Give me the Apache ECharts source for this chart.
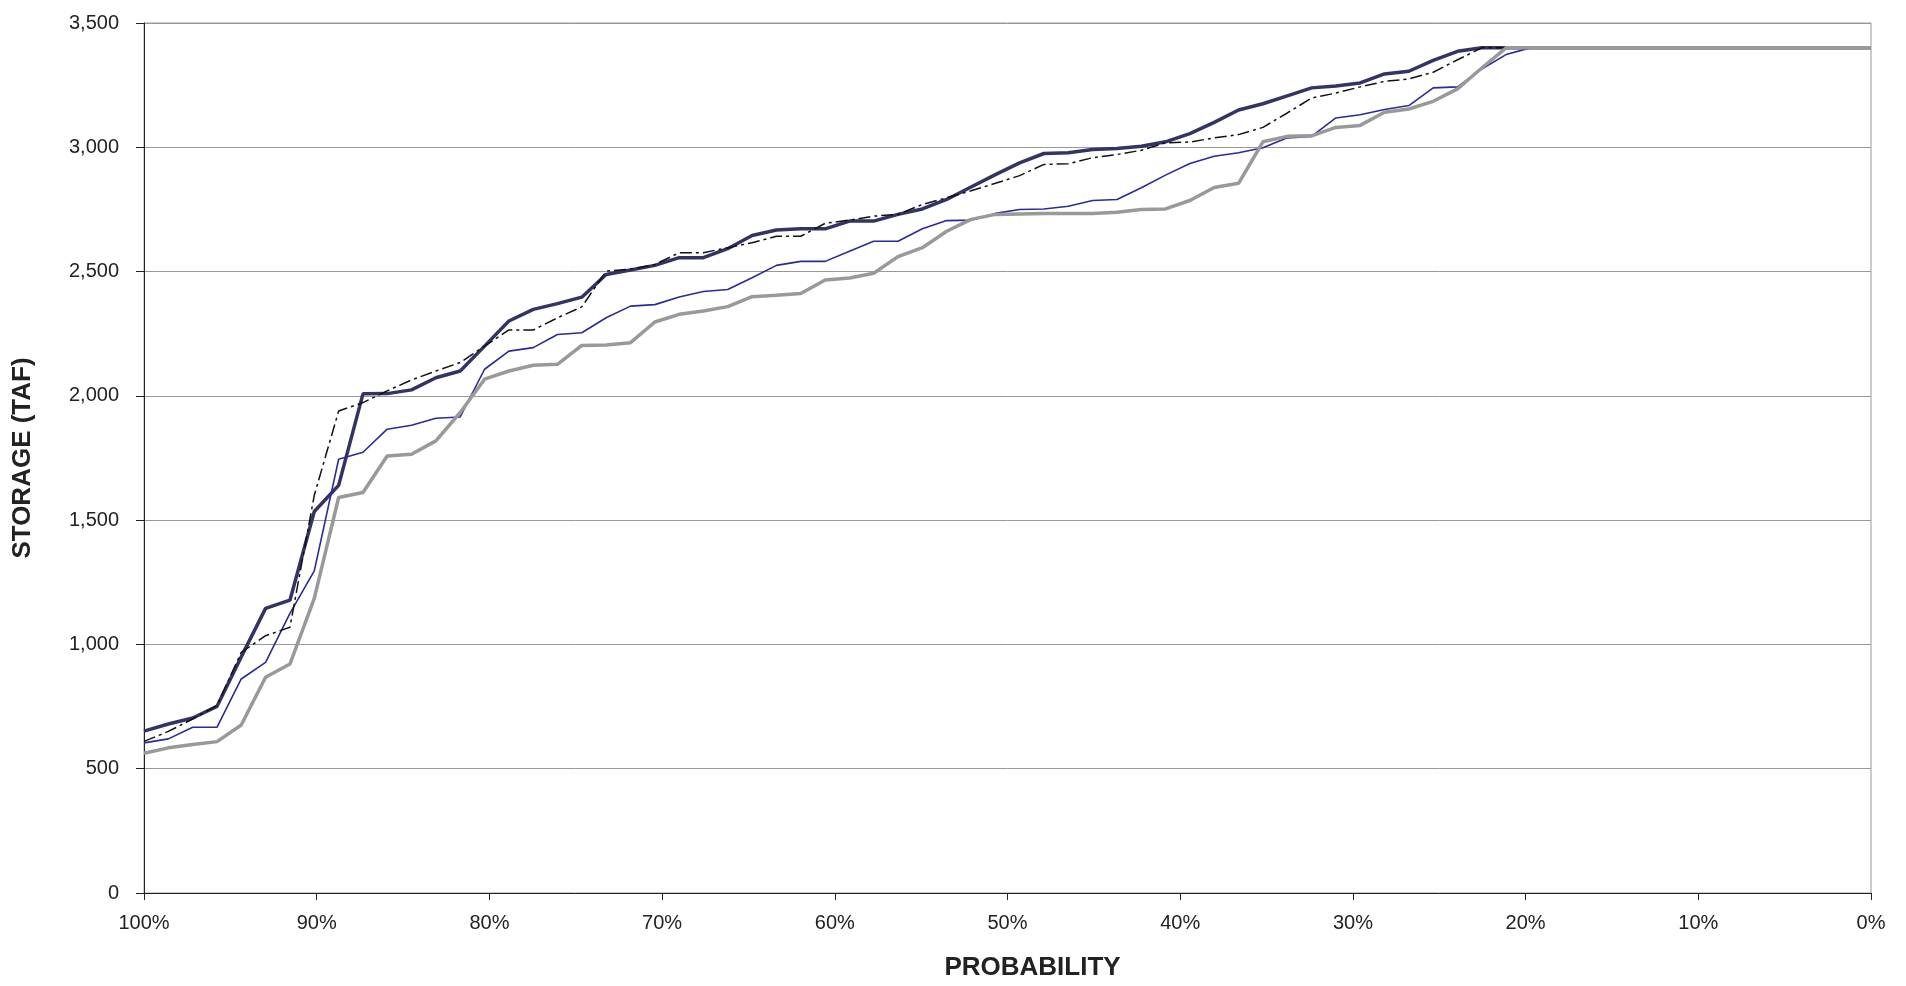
<!DOCTYPE html>
<html>
<head>
<meta charset="utf-8">
<script src="https://cdn.jsdelivr.net/npm/echarts@6/dist/echarts.min.js"></script>
<style>
html,body{margin:0;padding:0;background:#fff;}
#chart{width:1906px;height:986px;}
</style>
</head>
<body>
<div id="chart"></div>
<script>
// Exceedance probability (%) of each plotted point
const probs = [100, 98.59, 97.18, 95.77, 94.37, 92.96, 91.55, 90.14, 88.73, 87.32,
  85.92, 84.51, 83.10, 81.69, 80.28, 78.87, 77.46, 76.06, 74.65, 73.24,
  71.83, 70.42, 69.01, 67.61, 66.20, 64.79, 63.38, 61.97, 60.56, 59.15,
  57.75, 56.34, 54.93, 53.52, 52.11, 50.70, 49.30, 47.89, 46.48, 45.07,
  43.66, 42.25, 40.85, 39.44, 38.03, 36.62, 35.21, 33.80, 32.39, 30.99,
  29.58, 28.17, 26.76, 25.35, 23.94, 22.54, 21.13, 19.72, 18.31, 16.90,
  15.49, 14.08, 12.68, 11.27, 9.86, 8.45, 7.04, 5.63, 4.23, 2.82, 1.41, 0];

// Storage (TAF) – thick navy line
const navyValues = [651, 680, 704, 751, 950, 1145, 1178, 1535, 1640, 2008,
  2009, 2024, 2073, 2100, 2200, 2301, 2348, 2371, 2397, 2488,
  2506, 2525, 2556, 2556, 2592, 2645, 2667, 2672, 2672, 2703,
  2703, 2730, 2752, 2790, 2840, 2890, 2937, 2975, 2978, 2991,
  2995, 3004, 3022, 3055, 3100, 3150, 3175, 3207, 3239, 3247,
  3259, 3295, 3306, 3350, 3386, 3400, 3400, 3400, 3400, 3400,
  3400, 3400, 3400, 3400, 3400, 3400, 3400, 3400, 3400, 3400, 3400, 3400];

// Storage (TAF) – thin blue line
const blueValues = [604, 620, 667, 667, 861, 928, 1125, 1296, 1745, 1773,
  1866, 1882, 1910, 1915, 2107, 2180, 2194, 2247, 2254, 2314,
  2361, 2367, 2398, 2420, 2428, 2475, 2525, 2541, 2541, 2582,
  2622, 2622, 2672, 2705, 2707, 2734, 2750, 2752, 2763, 2786,
  2790, 2837, 2888, 2935, 2964, 2978, 2998, 3038, 3044, 3118,
  3131, 3152, 3168, 3239, 3243, 3315, 3373, 3400, 3400, 3400,
  3400, 3400, 3400, 3400, 3400, 3400, 3400, 3400, 3400, 3400, 3400, 3400];

// Storage (TAF) – black dashed line
const dashedValues = [610, 650, 700, 755, 968, 1035, 1069, 1600, 1939, 1973,
  2020, 2064, 2100, 2134, 2200, 2265, 2265, 2314, 2358, 2502,
  2510, 2528, 2576, 2576, 2596, 2616, 2642, 2642, 2694, 2707,
  2723, 2730, 2770, 2797, 2825, 2855, 2886, 2931, 2934, 2958,
  2971, 2988, 3018, 3021, 3038, 3051, 3080, 3138, 3198, 3218,
  3243, 3265, 3275, 3302, 3352, 3400, 3400, 3400, 3400, 3400,
  3400, 3400, 3400, 3400, 3400, 3400, 3400, 3400, 3400, 3400, 3400, 3400];

// Storage (TAF) – thick gray line
const grayValues = [562, 584, 597, 609, 676, 868, 921, 1185, 1591, 1611,
  1758, 1765, 1819, 1933, 2067, 2100, 2123, 2127, 2203, 2205,
  2214, 2297, 2328, 2341, 2359, 2399, 2405, 2412, 2466, 2474,
  2493, 2560, 2596, 2662, 2710, 2730, 2732, 2734, 2734, 2734,
  2739, 2750, 2752, 2786, 2838, 2855, 3022, 3044, 3046, 3080,
  3088, 3141, 3154, 3185, 3235, 3319, 3400, 3400, 3400, 3400,
  3400, 3400, 3400, 3400, 3400, 3400, 3400, 3400, 3400, 3400, 3400, 3400];

const xTitle = 'PROBABILITY';
const yTitle = 'STORAGE (TAF)';

function pairs(vals) { return probs.map((p, i) => [p, vals[i]]); }

const FONT = "'Liberation Sans', Arial, Helvetica, sans-serif";
const chart = echarts.init(document.getElementById('chart'), null, {renderer: 'canvas'});

chart.setOption({
  animation: false,
  backgroundColor: '#ffffff',
  grid: {
    left: 144, right: 35, top: 23, bottom: 92,
    containLabel: false,
    show: true, borderColor: '#999999', borderWidth: 1
  },
  xAxis: {
    type: 'value', min: 0, max: 100, interval: 10, inverse: true,
    name: xTitle, nameLocation: 'middle', nameGap: 62,
    nameTextStyle: {fontFamily: FONT, fontSize: 26, fontWeight: 'bold', color: '#222', padding: [0, 0, 0, 50]},
    axisLine: {show: true, onZero: false, lineStyle: {color: '#222', width: 1}},
    axisTick: {show: true, inside: false, length: 7, lineStyle: {color: '#222', width: 1}},
    axisLabel: {formatter: '{value}%', fontFamily: FONT, fontSize: 20, color: '#222', margin: 20},
    splitLine: {show: false}
  },
  yAxis: {
    type: 'value', min: 0, max: 3500, interval: 500,
    name: yTitle, nameLocation: 'middle', nameGap: 108, nameRotate: 90,
    nameTextStyle: {fontFamily: FONT, fontSize: 26, fontWeight: 'bold', color: '#222'},
    axisLine: {show: true, onZero: false, lineStyle: {color: '#222', width: 1}},
    axisTick: {show: true, inside: false, length: 8, lineStyle: {color: '#222', width: 1}},
    axisLabel: {
      formatter: v => v.toLocaleString('en-US'),
      fontFamily: FONT, fontSize: 20, color: '#222', margin: 25, padding: [0, 0, 6, 0]
    },
    splitLine: {show: true, lineStyle: {color: '#999999', width: 1}}
  },
  series: [
    {type: 'line', data: pairs(navyValues), symbol: 'none', z: 2,
     lineStyle: {color: '#333366', width: 3.5}},
    {type: 'line', data: pairs(blueValues), symbol: 'none', z: 3,
     lineStyle: {color: '#2a2a9a', width: 1.6}},
    {type: 'line', data: pairs(dashedValues), symbol: 'none', z: 4,
     lineStyle: {color: '#111111', width: 1.5, type: [12, 4, 3, 4]}},
    {type: 'line', data: pairs(grayValues), symbol: 'none', z: 5,
     lineStyle: {color: '#999999', width: 3.5}}
  ]
});
</script>
</body>
</html>
